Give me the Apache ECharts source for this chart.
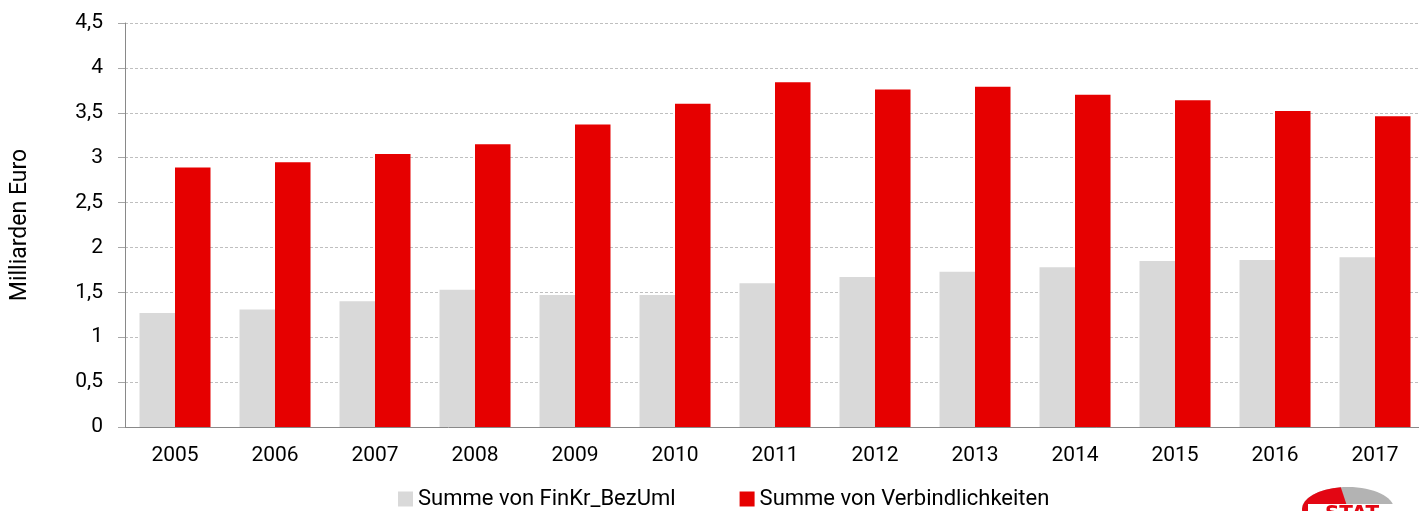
<!doctype html>
<html>
<head>
    <meta charset="UTF-8">
    <title>Verbindlichkeiten</title>
    <script src="https://cdn.jsdelivr.net/npm/echarts@6/dist/echarts.min.js"></script>
    <style>
        html, body { margin: 0; padding: 0; background: #fff; }
        #main { width: 1419px; height: 511px; }
    </style>
</head>
<body>
<div id="main"></div>
<script>
    // Jahre
    var years = ['2005', '2006', '2007', '2008', '2009', '2010', '2011', '2012', '2013', '2014', '2015', '2016', '2017'];
    // Milliarden Euro
    var finKr = [1.27, 1.31, 1.40, 1.53, 1.47, 1.47, 1.60, 1.67, 1.73, 1.78, 1.85, 1.86, 1.89];
    var verbindlichkeiten = [2.89, 2.95, 3.04, 3.15, 3.37, 3.60, 3.84, 3.76, 3.79, 3.70, 3.64, 3.52, 3.46];
    var seriesNames = ['Summe von FinKr_BezUml', 'Summe von Verbindlichkeiten'];

    var font = 'Roboto';
    var myChart = echarts.init(document.getElementById('main'));

    var option = {
        animation: false,
        textStyle: { fontFamily: font },
        grid: {
            left: 125,
            top: 23,
            width: 1300,
            height: 404,
            containLabel: false,
            outerBoundsMode: 'none'
        },
        legend: {
            left: 393,
            top: 483,
            itemWidth: 15,
            itemHeight: 15,
            itemGap: 64,
            icon: 'rect',
            textStyle: { fontFamily: font, fontSize: 22, color: '#000' },
            data: seriesNames
        },
        xAxis: {
            type: 'category',
            data: years,
            axisLine: { lineStyle: { color: '#898989' } },
            axisTick: { length: 6, lineStyle: { color: '#898989' } },
            axisLabel: { fontSize: 21, color: '#000', margin: 18, fontFamily: font }
        },
        yAxis: {
            type: 'value',
            min: 0,
            max: 4.5,
            interval: 0.5,
            name: 'Milliarden Euro',
            nameLocation: 'middle',
            nameRotate: 90,
            nameGap: 93,
            nameTextStyle: { fontSize: 23, color: '#000', fontFamily: font },
            axisLine: { show: true, lineStyle: { color: '#898989' } },
            axisTick: { show: true, length: 7, lineStyle: { color: '#a6a6a6' } },
            axisLabel: {
                fontSize: 21,
                color: '#000',
                margin: 22,
                fontFamily: font,
                formatter: function (v) {
                    return String(v).replace('.', ',');
                }
            },
            splitLine: { lineStyle: { color: '#bfbfbf', type: [3, 2], width: 1 } }
        },
        series: [
            {
                name: seriesNames[0],
                type: 'bar',
                data: finKr,
                barGap: '0%',
                barCategoryGap: '29%',
                itemStyle: { color: '#d9d9d9' }
            },
            {
                name: seriesNames[1],
                type: 'bar',
                data: verbindlichkeiten,
                itemStyle: { color: '#e60000' }
            }
        ],
        graphic: [
            // Logo unten rechts (abgeschnitten)
            {
                type: 'group',
                left: 1302,
                top: 487,
                children: [
                    {
                        type: 'ellipse',
                        shape: { cx: 46, cy: 22, rx: 46, ry: 22 },
                        style: { fill: '#b3b3b3' }
                    },
                    {
                        type: 'sector',
                        shape: { cx: 46, cy: 22, r: 46, r0: 0, startAngle: Math.PI * 0.5, endAngle: Math.PI * 1.45 },
                        scaleY: 22 / 46,
                        originY: 22,
                        originX: 46,
                        style: { fill: '#e30613' }
                    },
                    {
                        type: 'rect',
                        shape: { x: 6, y: 17, width: 90, height: 10 },
                        style: { fill: '#fff' }
                    },
                    {
                        type: 'text',
                        x: 50,
                        y: 17,
                        style: {
                            text: 'STAT',
                            fill: '#e30613',
                            font: 'bold 20px "DejaVu Sans"',
                            align: 'center',
                            verticalAlign: 'top'
                        }
                    }
                ]
            }
        ]
    };

    myChart.setOption(option);
</script>
</body>
</html>
